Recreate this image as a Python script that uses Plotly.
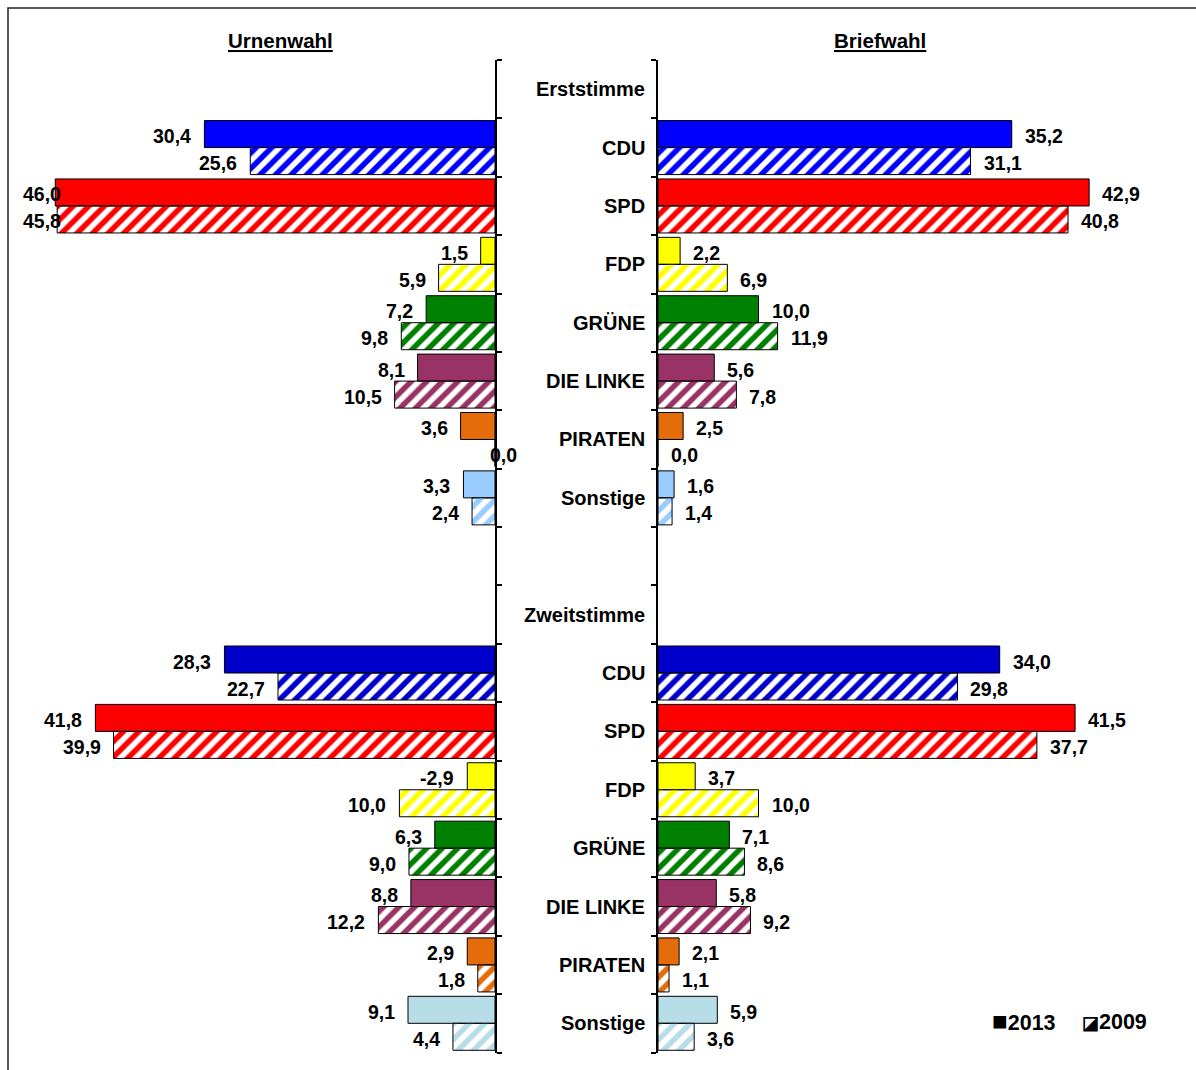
import plotly.graph_objects as go

# --- data -------------------------------------------------------------
parties = ["CDU", "SPD", "FDP", "GRÜNE", "DIE LINKE", "PIRATEN", "Sonstige"]
section_titles = ["Erststimme", "Zweitstimme"]
panel_titles = ["Urnenwahl", "Briefwahl"]
years = ["2013", "2009"]

urne_erst_2013 = [30.4, 46.0, 1.5, 7.2, 8.1, 3.6, 3.3]
urne_erst_2009 = [25.6, 45.8, 5.9, 9.8, 10.5, 0.0, 2.4]
brief_erst_2013 = [35.2, 42.9, 2.2, 10.0, 5.6, 2.5, 1.6]
brief_erst_2009 = [31.1, 40.8, 6.9, 11.9, 7.8, 0.0, 1.4]

urne_zweit_2013 = [28.3, 41.8, -2.9, 6.3, 8.8, 2.9, 9.1]
urne_zweit_2009 = [22.7, 39.9, 10.0, 9.0, 12.2, 1.8, 4.4]
brief_zweit_2013 = [34.0, 41.5, 3.7, 7.1, 5.8, 2.1, 5.9]
brief_zweit_2009 = [29.8, 37.7, 10.0, 8.6, 9.2, 1.1, 3.6]

colors_erst = ["#0000FF", "#FF0000", "#FFFF00", "#008000", "#993366", "#E46C0A", "#99CCFF"]
colors_zweit = ["#0000CC", "#FF0000", "#FFFF00", "#008000", "#993366", "#E46C0A", "#B7DDE8"]

# --- layout helpers ---------------------------------------------------
W, H = 1196, 1070
FONT = "Liberation Sans, Arial, sans-serif"
n_rows = 17
rows_erst = list(range(1, 8))        # header "Erststimme" in row 0
rows_zweit = list(range(10, 17))     # blank row 8, header "Zweitstimme" in row 9
rows = rows_erst + rows_zweit
colors = colors_erst + colors_zweit

BARGAP = 0.075
half = (1 - BARGAP) / 4  # centre offset of each bar within a row


def px_x(p):
    return p / W


def px_y(p):
    return 1 - p / H


def fmt(v):
    return f"{v:.1f}".replace(".", ",")


left_dom = [px_x(17), px_x(495)]
right_dom = [px_x(658), px_x(1160.5)]
y_dom = [px_y(1052.5), px_y(60)]
XMAX = 50

fig = go.Figure()

panels = [
    ("x", "y", urne_erst_2013 + urne_zweit_2013, urne_erst_2009 + urne_zweit_2009),
    ("x2", "y2", brief_erst_2013 + brief_zweit_2013, brief_erst_2009 + brief_zweit_2009),
]

value_font = dict(family=FONT, size=19.5, color="black", weight="bold")
label_font = dict(family=FONT, size=20, color="black", weight="bold")

annotations = []
for xa, ya, v13, v09 in panels:
    fig.add_trace(go.Bar(
        name=years[0], orientation="h", xaxis=xa, yaxis=ya,
        x=[abs(v) for v in v13], y=rows,
        marker=dict(color=colors, line=dict(color="black", width=1)),
        showlegend=False, hoverinfo="skip",
    ))
    fig.add_trace(go.Bar(
        name=years[1], orientation="h", xaxis=xa, yaxis=ya,
        x=[abs(v) for v in v09], y=rows,
        marker=dict(
            color=colors,
            line=dict(color="black", width=1),
            pattern=dict(shape="/", size=11, solidity=0.5,
                         fgcolor=colors, bgcolor="white", fillmode="replace"),
        ),
        showlegend=False, hoverinfo="skip",
    ))

    # value labels beside each bar end
    for vals, off in ((v13, -half), (v09, half)):
        for r, v in zip(rows, vals):
            a = dict(text=fmt(v), yref=ya, y=r + off, showarrow=False,
                     yanchor="middle", yshift=-2, font=value_font)
            if xa == "x":
                if abs(v) >= 44:
                    a.update(xref="paper", x=px_x(21), xanchor="left")
                elif v == 0:
                    a.update(xref="x", x=0, xanchor="left", xshift=-7)
                else:
                    a.update(xref="x", x=abs(v), xanchor="right", xshift=-11)
            else:
                a.update(xref="x2", x=abs(v), xanchor="left", xshift=11)
            annotations.append(a)

# category labels in the middle column
for r, name in zip([0, 9], section_titles):
    annotations.append(dict(text=name, xref="paper", x=px_x(647), xanchor="right",
                            yref="y", y=r, yanchor="middle", showarrow=False,
                            font=label_font))
for r, name in zip(rows, parties + parties):
    annotations.append(dict(text=name, xref="paper", x=px_x(647), xanchor="right",
                            yref="y", y=r, yanchor="middle", showarrow=False,
                            font=label_font))

# panel titles
for cx, t in zip([280, 880], panel_titles):
    annotations.append(dict(text=f"<u>{t}</u>", xref="paper", x=px_x(cx), xanchor="center",
                            yref="paper", y=px_y(40), yanchor="middle", showarrow=False,
                            font=dict(family=FONT, size=20.5, color="black", weight="bold")))

# legend: symbol glyph followed by the year
legend_font = dict(family=FONT, size=21.5, color="black", weight="bold")
legend_items = [("■", 26, 990, 0), ("◪", 18, 1080, -1)]
for (sym, sym_size, px, dy), yr in zip(legend_items, years):
    annotations.append(dict(text=f"<span style='font-size:{sym_size}px'>{sym}</span>{yr}",
                            xref="paper", x=px_x(px), xanchor="left",
                            yref="paper", y=px_y(1021), yanchor="middle", yshift=dy,
                            showarrow=False, font=legend_font))

boundaries = [i - 0.5 for i in range(n_rows + 1)]
yaxis_common = dict(
    domain=y_dom, range=[n_rows - 0.5, -0.5], tickvals=boundaries,
    ticks="outside", ticklen=5, tickwidth=1.5, tickcolor="black",
    showline=True, linecolor="black", linewidth=2,
    showticklabels=False, showgrid=False, zeroline=False, fixedrange=True,
)
xaxis_common = dict(showline=False, showticklabels=False, showgrid=False,
                    zeroline=False, ticks="", fixedrange=True)

fig.update_layout(
    width=W, height=H,
    margin=dict(l=0, r=0, t=0, b=0),
    paper_bgcolor="white", plot_bgcolor="rgba(0,0,0,0)",
    barmode="group", bargap=BARGAP, bargroupgap=0,
    xaxis=dict(domain=left_dom, range=[XMAX, 0], anchor="y", **xaxis_common),
    xaxis2=dict(domain=right_dom, range=[0, XMAX], anchor="y2", **xaxis_common),
    yaxis=dict(anchor="x", side="right", **yaxis_common),
    yaxis2=dict(anchor="x2", side="left", **yaxis_common),
    annotations=annotations,
    shapes=[dict(type="rect", xref="paper", yref="paper",
                 x0=px_x(8), x1=1.02, y0=-0.02, y1=px_y(8),
                 line=dict(color="#222222", width=1.5), fillcolor="rgba(0,0,0,0)",
                 layer="below")],
    showlegend=False,
)

fig.write_html("out.html")
